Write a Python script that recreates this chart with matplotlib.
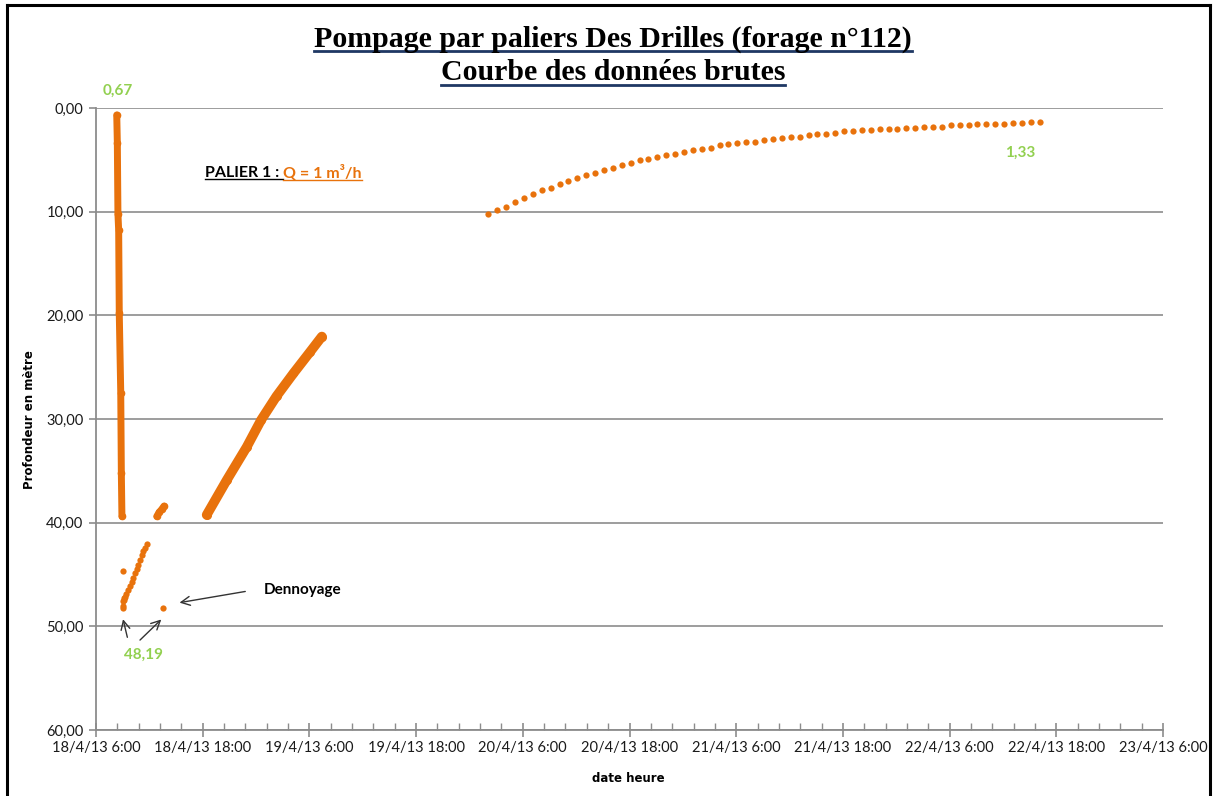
import matplotlib
matplotlib.use("Agg")
import matplotlib.pyplot as plt
import matplotlib.dates as mdates
from matplotlib.ticker import FixedLocator, FuncFormatter
from matplotlib.lines import Line2D
import numpy as np
import pandas as pd

W, H = 1215, 796

# descente (pompage palier 1), lecture rapide
t_descente = pd.to_datetime(["2013-04-18 08:20", "2013-04-18 08:24", "2013-04-18 08:28",
                             "2013-04-18 08:33", "2013-04-18 08:37", "2013-04-18 08:47",
                             "2013-04-18 08:51", "2013-04-18 08:55"])
d_descente = [0.67, 3.4, 10.2, 11.8, 19.8, 27.5, 35.2, 39.4]

# dennoyage (points bas)
t_bas = pd.to_datetime(["2013-04-18 09:02", "2013-04-18 09:04", "2013-04-18 09:05", "2013-04-18 09:07",
                        "2013-04-18 09:10", "2013-04-18 09:16", "2013-04-18 09:25", "2013-04-18 09:38",
                        "2013-04-18 09:50", "2013-04-18 10:01", "2013-04-18 10:12", "2013-04-18 10:23",
                        "2013-04-18 10:35", "2013-04-18 10:46", "2013-04-18 10:57", "2013-04-18 11:08",
                        "2013-04-18 11:20", "2013-04-18 11:31", "2013-04-18 11:42", "2013-04-18 09:04",
                        "2013-04-18 13:34"])
d_bas = [48.19, 48.0, 47.6, 47.3, 47.5, 47.2, 46.9, 46.5, 46.1, 45.7, 45.3, 44.9,
         44.5, 44.1, 43.6, 43.1, 42.7, 42.4, 42.1, 44.7, 48.19]

# petite reprise
t_reprise = pd.to_datetime(["2013-04-18 12:50", "2013-04-18 13:06", "2013-04-18 13:24", "2013-04-18 13:39"])
d_reprise = [39.4, 39.0, 38.7, 38.4]

# remontee rapide
t_remontee = pd.to_datetime(["2013-04-18 18:27", "2013-04-18 20:42", "2013-04-18 22:57", "2013-04-19 00:34",
                             "2013-04-19 02:18", "2013-04-19 04:12", "2013-04-19 06:06", "2013-04-19 07:24"])
d_remontee = [39.25, 35.9, 32.7, 30.1, 27.8, 25.6, 23.5, 22.05]

# remontee horaire
d_horaire = [10.22, 9.87, 9.52, 9.03, 8.65, 8.33, 7.94, 7.69, 7.33, 7.07,
             6.72, 6.49, 6.24, 6.01, 5.79, 5.53, 5.27, 5.05, 4.92, 4.69,
             4.56, 4.40, 4.21, 4.08, 3.95, 3.82, 3.60, 3.47, 3.34, 3.25,
             3.25, 3.12, 2.99, 2.89, 2.76, 2.76, 2.64, 2.51, 2.51, 2.38,
             2.25, 2.25, 2.12, 2.12, 2.02, 2.02, 2.02, 1.90, 1.90, 1.80,
             1.80, 1.80, 1.67, 1.67, 1.67, 1.54, 1.54, 1.54, 1.54, 1.41,
             1.41, 1.38, 1.33]
t_horaire = pd.date_range("2013-04-20 02:08", periods=len(d_horaire), freq="h")

debut = pd.Timestamp("2013-04-18 06:00")
fin = pd.Timestamp("2013-04-23 06:00")

orange = '#E8720C'
vert = '#92D050'
gris = '#8C8C8C'
calibri = ['Lato', 'DejaVu Sans']


def fx(px):
    return px / W


def fy(py):
    return 1 - py / H


fig = plt.figure(figsize=(W / 100, H / 100), dpi=100)
ax = fig.add_axes([fx(96), fy(730), (1163 - 96) / W, (730 - 108) / H])

ax.plot(t_descente, d_descente, color=orange, lw=5, marker='o', ms=4.5, solid_capstyle='round')
ax.plot(t_reprise, d_reprise, color=orange, lw=5, marker='o', ms=4.5, solid_capstyle='round')
ax.plot(t_remontee, d_remontee, color=orange, lw=7, marker='o', ms=5.5, solid_capstyle='round')
ax.plot(t_bas, d_bas, ls='none', color=orange, marker='o', ms=4.5, mec='none')
ax.plot(t_horaire, d_horaire, ls='none', color=orange, marker='o', ms=4.5, mec='none')

ax.set_ylim(60, 0)
ax.set_xlim(debut, fin)

x0 = mdates.date2num(debut)
ax.xaxis.set_major_locator(FixedLocator(x0 + np.arange(0, 5.01, 0.5)))
ax.xaxis.set_minor_locator(FixedLocator(x0 + np.arange(0, 5.001, 0.1)))


def fmt_date(v, pos):
    d = mdates.num2date(round(v * 1440) / 1440)
    return f"{d.day}/{d.month}/{d:%y} {d.hour}:{d:%M}"


ax.xaxis.set_major_formatter(FuncFormatter(fmt_date))
ax.yaxis.set_major_locator(FixedLocator(np.arange(0, 61, 10)))
ax.yaxis.set_major_formatter(FuncFormatter(lambda v, p: f"{v:.2f}".replace('.', ',')))

for s in ['top', 'right']:
    ax.spines[s].set_visible(False)
for s in ['left', 'bottom']:
    ax.spines[s].set_color(gris)
    ax.spines[s].set_linewidth(1.3)

ax.tick_params(axis='x', which='major', direction='inout', length=10, width=1.2, color=gris,
               labelsize=10.5, pad=3, labelcolor='#1a1a1a')
ax.tick_params(axis='x', which='minor', direction='in', length=5, width=1.0, color=gris)
ax.tick_params(axis='y', which='major', direction='out', length=5, width=1.2, color=gris,
               labelsize=10.5, pad=4, labelcolor='#1a1a1a')
for lab in ax.get_xticklabels() + ax.get_yticklabels():
    lab.set_family(calibri)

ax.yaxis.grid(True, color=gris, lw=1.2)
ax.set_axisbelow(True)

# titres
t1 = fig.text(fx(613), fy(39), "Pompage par paliers Des Drilles (forage n°112)", ha='center', va='center',
              family='Liberation Serif', weight='bold', size=21.5)
t2 = fig.text(fx(613), fy(73), "Courbe des données brutes", ha='center', va='center',
              family='Liberation Serif', weight='bold', size=21.5)

fig.text(fx(628), fy(778), "date heure", ha='center', va='center', family='DejaVu Sans',
         weight='bold', size=8.5)
fig.text(fx(30), fy(420), "Profondeur en mètre", ha='center', va='center', rotation=90,
         family='DejaVu Sans', weight='bold', size=8.5)

# etiquettes de valeurs
fig.text(fx(118), fy(91), "0,67", ha='center', va='center', color=vert, family=calibri, weight='bold', size=11)
fig.text(fx(1020), fy(153), "1,33", ha='center', va='center', color=vert, family=calibri, weight='bold', size=11)
fig.text(fx(143), fy(655), "48,19", ha='center', va='center', color=vert, family=calibri, weight='bold', size=11)
fig.text(fx(303), fy(590), "Dennoyage", ha='center', va='center', color='black', family=calibri,
         weight='bold', size=11)

p1 = fig.text(fx(205), fy(173), "PALIER 1 : ", ha='left', va='center', color='black', family=calibri,
              weight='bold', size=11.5)
fig.canvas.draw()
r = fig.canvas.get_renderer()
bb = p1.get_window_extent(r)
p2 = fig.text(bb.x1 / W, fy(173), "Q = 1 m³/h", ha='left', va='center', color=orange, family=calibri,
              weight='bold', size=11.5)

# fleches
fleche = dict(arrowstyle='->', color='#333333', lw=1.0, mutation_scale=16)
ax.annotate("", xy=(pd.Timestamp("2013-04-18 08:58"), 49.05), xycoords='data',
            xytext=(fx(128), fy(640)), textcoords='figure fraction', arrowprops=fleche)
ax.annotate("", xy=(pd.Timestamp("2013-04-18 13:34"), 49.15), xycoords='data',
            xytext=(fx(138), fy(642)), textcoords='figure fraction', arrowprops=fleche)
ax.annotate("", xy=(pd.Timestamp("2013-04-18 15:05"), 47.76), xycoords='data',
            xytext=(fx(248), fy(591)), textcoords='figure fraction', arrowprops=fleche)

fig.canvas.draw()


def souligne(txt, color, lw, off):
    b = txt.get_window_extent(r)
    y = (b.y0 + off) / H
    fig.add_artist(Line2D([b.x0 / W, b.x1 / W], [y, y], color=color, lw=lw))


souligne(t1, '#1F3864', 2.0, 2)
souligne(t2, '#1F3864', 2.0, 2)
souligne(p1, 'black', 1.0, 1)
souligne(p2, orange, 1.0, 1)

# cadre
fig.add_artist(Line2D([fx(7), fx(7)], [0, fy(5)], color='black', lw=2.2))
fig.add_artist(Line2D([fx(7), fx(1210)], [fy(5), fy(5)], color='black', lw=2.2))
fig.add_artist(Line2D([fx(1210), fx(1210)], [fy(5), 0], color='black', lw=2.2))

fig.savefig("out.png", dpi=100)
